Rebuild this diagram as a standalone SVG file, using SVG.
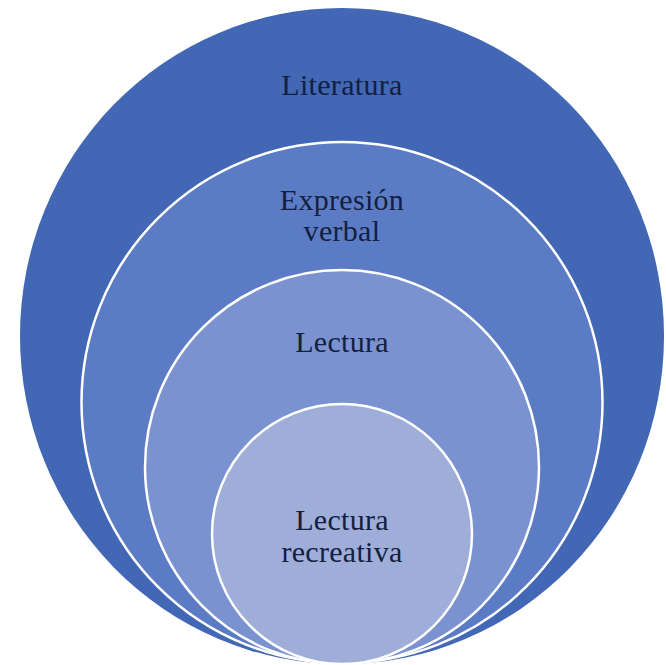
<svg xmlns="http://www.w3.org/2000/svg" width="666" height="665" viewBox="0 0 666 665">
<style>
.ring{stroke:#ffffff;stroke-width:2.5}
.lbl{font-family:"Liberation Serif","Times New Roman",serif;font-size:30px;letter-spacing:0.3px;fill:#13203f;text-anchor:middle}
</style>
<rect width="666" height="665" fill="#ffffff"/>
<g id="literatura">
<ellipse cx="342" cy="336" rx="322" ry="328" fill="#4267b5"/>
<text class="lbl" x="342" y="95">Literatura</text>
</g>
<g id="expresion-verbal">
<circle class="ring" cx="342" cy="402.5" r="260.5" fill="#5b7cc5"/>
<text class="lbl" x="342" y="210">Expresión</text>
<text class="lbl" x="342" y="241">verbal</text>
</g>
<g id="lectura">
<circle class="ring" cx="342" cy="467" r="197" fill="#7a93d0"/>
<text class="lbl" x="342" y="352">Lectura</text>
</g>
<g id="lectura-recreativa">
<circle class="ring" cx="342" cy="534" r="130" fill="#9faed9"/>
<text class="lbl" x="342" y="530">Lectura</text>
<text class="lbl" x="342" y="562">recreativa</text>
</g>
<g id="connectors"/>
</svg>
